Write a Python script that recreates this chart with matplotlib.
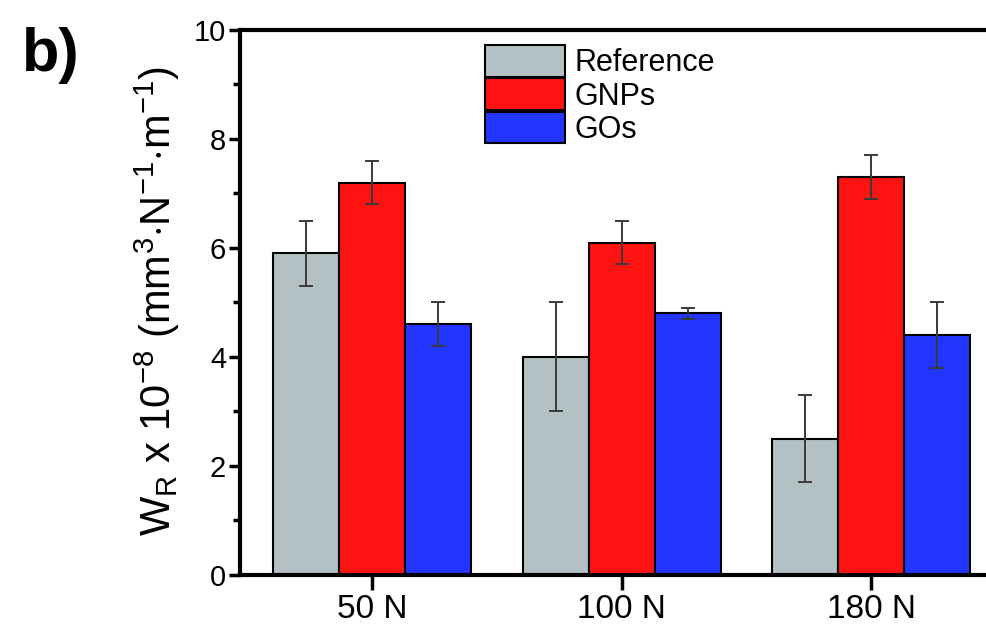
import numpy as np
import matplotlib.pyplot as plt
from matplotlib.ticker import MultipleLocator

plt.rcParams['font.family'] = ['Liberation Sans', 'DejaVu Sans']
plt.rcParams['mathtext.fontset'] = 'custom'
plt.rcParams['mathtext.rm'] = 'Liberation Sans'

loads = ["50 N", "100 N", "180 N"]
series = ["Reference", "GNPs", "GOs"]
reference = [5.9, 4.0, 2.5]
reference_err = [0.6, 1.0, 0.8]
gnps = [7.2, 6.1, 7.3]
gnps_err = [0.4, 0.4, 0.4]
gos = [4.6, 4.8, 4.4]
gos_err = [0.4, 0.1, 0.6]

colors = ["#b3c1c4", "#ff1212", "#2236ff"]


def main():
    fig = plt.figure(figsize=(9.86, 6.29), dpi=100)
    ax = fig.add_axes([0.2434, 0.0859, 1 - 0.2434, 0.9523 - 0.0859])

    x = np.arange(len(loads))
    w = 0.265
    values = [reference, gnps, gos]
    errors = [reference_err, gnps_err, gos_err]
    for i, (vals, errs, name, c) in enumerate(zip(values, errors, series, colors)):
        ax.bar(x + (i - 1) * w, vals, w, color=c, edgecolor="black",
               linewidth=1.5, label=name, zorder=2)
        ax.errorbar(x + (i - 1) * w, vals, yerr=errs, fmt="none",
                    ecolor="#3a3a3a", elinewidth=1.4, capsize=5,
                    capthick=1.4, zorder=3)

    ax.set_xlim(-0.53, 2.46)
    ax.set_ylim(0, 10)
    ax.set_xticks(x)
    ax.set_xticklabels(loads, fontsize=24)
    ax.yaxis.set_major_locator(MultipleLocator(2))
    ax.yaxis.set_minor_locator(MultipleLocator(1))
    ax.tick_params(axis="y", which="major", direction="out", length=8,
                   width=2.5, labelsize=21, pad=2)
    ax.tick_params(axis="y", which="minor", direction="out", length=5, width=2.5)
    ax.tick_params(axis="x", direction="out", length=11, width=2.5, pad=3)

    for side in ["left", "bottom", "top"]:
        ax.spines[side].set_linewidth(3)
    ax.spines["right"].set_visible(False)

    ylabel = (r"W$_\mathregular{R}$ x 10$^\mathregular{-8}$ "
              r"(mm$^\mathregular{3}$$\cdot$N$^\mathregular{-1}$$\cdot$m$^\mathregular{-1}$)")
    fig.text(157 / 986, 1 - 301 / 629, ylabel, fontsize=30, rotation=90,
             ha="center", va="center")

    ax.legend(loc="upper left", bbox_to_anchor=(0.329, 0.972), frameon=False,
              fontsize=22, handlelength=2.6, handleheight=1.22,
              labelspacing=0.0, handletextpad=0.33, borderpad=0,
              borderaxespad=0)

    fig.text(0.022, 0.957, "b)", fontsize=44, fontweight="bold", va="top")

    fig.savefig("out.png", dpi=100)
    plt.close(fig)


if __name__ == "__main__":
    main()
